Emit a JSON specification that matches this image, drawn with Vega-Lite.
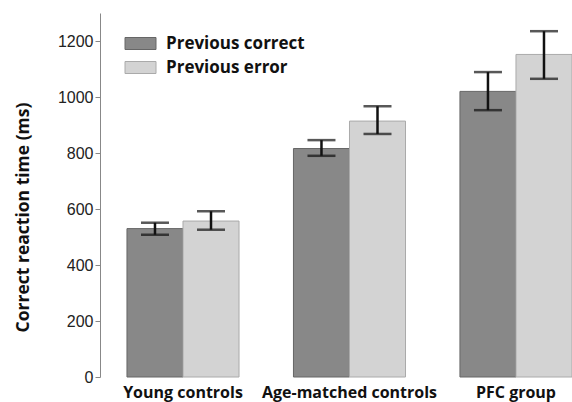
{
  "$schema": "https://vega.github.io/schema/vega-lite/v6.json",
  "width": 472,
  "height": 364,
  "autosize": "none",
  "padding": {"left": 100, "top": 13, "right": 0, "bottom": 25},
  "background": "white",
  "data": {"values": [
    {"group": "Young controls", "cond": "Previous correct", "mean": 530, "lo": 508, "hi": 551},
    {"group": "Young controls", "cond": "Previous error", "mean": 557, "lo": 526, "hi": 592},
    {"group": "Age-matched controls", "cond": "Previous correct", "mean": 816, "lo": 790, "hi": 846},
    {"group": "Age-matched controls", "cond": "Previous error", "mean": 914, "lo": 868, "hi": 967},
    {"group": "PFC group", "cond": "Previous correct", "mean": 1020, "lo": 953, "hi": 1089},
    {"group": "PFC group", "cond": "Previous error", "mean": 1152, "lo": 1065, "hi": 1235}
  ]},
  "encoding": {
    "x": {"field": "group", "type": "nominal", "sort": null,
      "scale": {"paddingInner": 0.327, "paddingOuter": 0.081, "align": 1},
      "axis": {"title": null, "domain": false, "ticks": false, "labelAngle": 0, "labelPadding": 7,
        "labelFont": "Open Sans", "labelFontWeight": "bold", "labelFontSize": 16, "labelColor": "#111", "labelOverlap": false}},
    "xOffset": {"field": "cond", "type": "nominal", "scale": {"domain": ["Previous correct", "Previous error"], "paddingInner": 0, "paddingOuter": 0}}
  },
  "layer": [
    {
      "mark": {"type": "bar", "strokeWidth": 1},
      "encoding": {
        "y": {"field": "mean", "type": "quantitative", "scale": {"domain": [0, 1300], "nice": false},
          "axis": {"title": "Correct reaction time (ms)", "titleFont": "Open Sans", "titleFontWeight": "bold", "titleFontSize": 17.5, "titleColor": "#111",
            "titleX": -77, "titleY": 204, "titleAngle": -90, "titleAlign": "center", "titleBaseline": "middle",
            "values": [0,100,200,300,400,500,600,700,800,900,1000,1100,1200,1300],
            "labelExpr": "datum.value % 200 == 0 && datum.value < 1300 ? datum.label : ''",
            "format": "d", "grid": false, "domainColor": "#888", "tickColor": "#888", "tickSize": 5, "labelPadding": 2,
            "labelFont": "Liberation Sans", "labelFontSize": 16, "labelColor": "#222"}},
        "fill": {"field": "cond", "type": "nominal", "scale": {"domain": ["Previous correct", "Previous error"], "range": ["#888888", "#d3d3d3"]},
          "legend": {"title": null, "orient": "none", "legendX": 32, "legendY": 22, "padding": 0,
            "symbolType": "M-3.1,-1.2H3.1V1.2H-3.1Z", "symbolSize": 100, "symbolStrokeColor": "#777", "symbolStrokeWidth": 1,
            "labelOffset": 17, "rowPadding": 6, "labelFont": "Open Sans", "labelFontWeight": "bold", "labelFontSize": 17, "labelColor": "#111"}},
        "stroke": {"field": "cond", "type": "nominal", "scale": {"domain": ["Previous correct", "Previous error"], "range": ["#666666", "#aaaaaa"]}, "legend": null}
      }
    },
    {
      "mark": {"type": "rule", "color": "#111", "strokeWidth": 2.5},
      "encoding": {"y": {"field": "lo", "type": "quantitative"}, "y2": {"field": "hi"}}
    },
    {
      "mark": {"type": "tick", "color": "#111", "thickness": 2.5, "size": 28},
      "encoding": {"y": {"field": "lo", "type": "quantitative"}}
    },
    {
      "mark": {"type": "tick", "color": "#111", "thickness": 2.5, "size": 28},
      "encoding": {"y": {"field": "hi", "type": "quantitative"}}
    }
  ],
  "config": {"view": {"stroke": null}}
}
